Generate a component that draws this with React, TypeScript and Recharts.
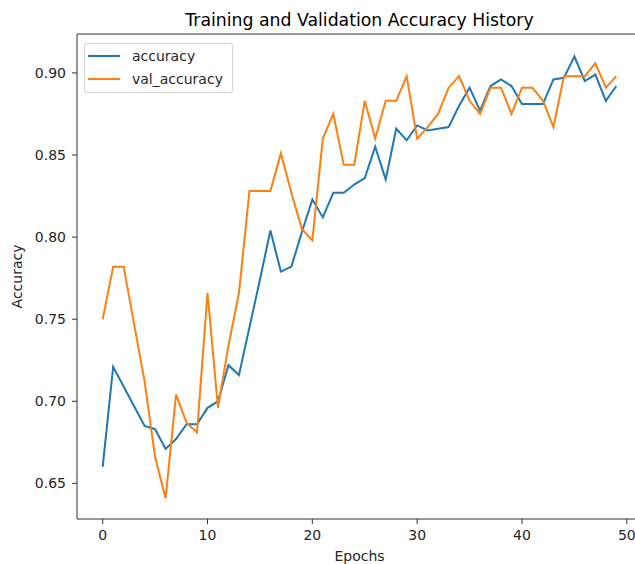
import { LineChart, Line, XAxis, YAxis, Legend } from 'recharts';

// Keras history
const epochs = Array.from({ length: 50 }, (_, i) => i);

const accuracy = [
  0.660, 0.721, 0.709, 0.697, 0.685, 0.683, 0.671, 0.677, 0.686, 0.686,
  0.696, 0.700, 0.722, 0.716, 0.745, 0.774, 0.804, 0.779, 0.782, 0.803,
  0.823, 0.812, 0.827, 0.827, 0.832, 0.836, 0.855, 0.835, 0.866, 0.859,
  0.868, 0.865, 0.866, 0.867, 0.880, 0.891, 0.877, 0.892, 0.896, 0.892,
  0.881, 0.881, 0.881, 0.896, 0.897, 0.910, 0.895, 0.899, 0.883, 0.892,
];

const valAccuracy = [
  0.750, 0.782, 0.782, 0.747, 0.712, 0.666, 0.641, 0.704, 0.687, 0.681,
  0.766, 0.696, 0.734, 0.766, 0.828, 0.828, 0.828, 0.851, 0.827, 0.805,
  0.798, 0.860, 0.875, 0.844, 0.844, 0.883, 0.860, 0.883, 0.883, 0.898,
  0.860, 0.867, 0.875, 0.891, 0.898, 0.883, 0.875, 0.891, 0.891, 0.875,
  0.891, 0.891, 0.883, 0.867, 0.898, 0.898, 0.898, 0.906, 0.891, 0.898,
];

const xTicks = [0, 10, 20, 30, 40, 50];
const yTicks = [0.65, 0.7, 0.75, 0.8, 0.85, 0.9];

const data = epochs.map((e, i) => ({ epoch: e, accuracy: accuracy[i], val_accuracy: valAccuracy[i] }));

const FONT = '"DejaVu Sans", sans-serif';
const SPINE = '#333';
const X_DOMAIN = [-2.45, 51.45];
const Y_DOMAIN = [0.6283, 0.9237];
const TICK_TEXT = { fontSize: 14, fill: '#262626', fontFamily: FONT };

/* eslint-disable @typescript-eslint/no-explicit-any */
function LegendBox({ payload }: any) {
  return (
    <div
      style={{
        width: 147,
        height: 48,
        border: '1px solid #d4d4d4',
        borderRadius: 3,
        background: 'rgba(255,255,255,0.8)',
        fontFamily: FONT,
        fontSize: 14,
        color: '#262626',
      }}
    >
      {(payload ?? []).map((p: any) => (
        <div key={p.value} style={{ height: 23, display: 'flex', alignItems: 'center' }}>
          <span style={{ width: 32, height: 2, marginLeft: 3, background: p.color }} />
          <span style={{ marginLeft: 12 }}>{p.value}</span>
        </div>
      ))}
    </div>
  );
}
/* eslint-enable @typescript-eslint/no-explicit-any */

export default function App() {
  return (
    <div style={{ position: 'absolute', left: 0, top: 0, width: 635, height: 564, overflow: 'hidden', background: '#fff' }}>
      <LineChart width={650} height={564} data={data} margin={{ top: 33, right: 7, bottom: 0, left: 0 }}>
        <XAxis
          dataKey="epoch"
          type="number"
          domain={X_DOMAIN}
          ticks={xTicks}
          allowDataOverflow
          height={45}
          tickSize={5}
          tickMargin={6}
          stroke={SPINE}
          tick={TICK_TEXT}
          label={{ value: 'Epochs', position: 'insideBottom', offset: 3, fontSize: 14, fill: '#262626', fontFamily: FONT }}
        />
        {/* top spine + title */}
        <XAxis
          xAxisId="top"
          dataKey="epoch"
          type="number"
          orientation="top"
          domain={X_DOMAIN}
          allowDataOverflow
          height={1}
          tick={false}
          tickLine={false}
          stroke={SPINE}
          label={{
            value: 'Training and Validation Accuracy History',
            position: 'top',
            offset: 7,
            fontSize: 17.3,
            fill: '#000',
            fontFamily: FONT,
          }}
        />
        <YAxis
          type="number"
          domain={Y_DOMAIN}
          ticks={yTicks}
          allowDataOverflow
          width={77}
          tickSize={5}
          tickMargin={6}
          stroke={SPINE}
          tick={TICK_TEXT}
          tickFormatter={(v: number) => v.toFixed(2)}
          label={{
            value: 'Accuracy',
            angle: -90,
            position: 'insideLeft',
            offset: 17,
            fontSize: 14,
            fill: '#262626',
            fontFamily: FONT,
            style: { textAnchor: 'middle' },
          }}
        />
        <YAxis yAxisId="right" orientation="right" domain={Y_DOMAIN} allowDataOverflow width={1} tick={false} tickLine={false} stroke={SPINE} />
        <Legend
          layout="vertical"
          align="center"
          verticalAlign="middle"
          wrapperStyle={{ left: 84, top: 43, width: 'auto' }}
          content={<LegendBox />}
        />
        <Line dataKey="accuracy" stroke="#1f77b4" strokeWidth={2} dot={false} isAnimationActive={false} />
        <Line dataKey="val_accuracy" stroke="#ff7f0e" strokeWidth={2} dot={false} isAnimationActive={false} />
      </LineChart>
    </div>
  );
}
